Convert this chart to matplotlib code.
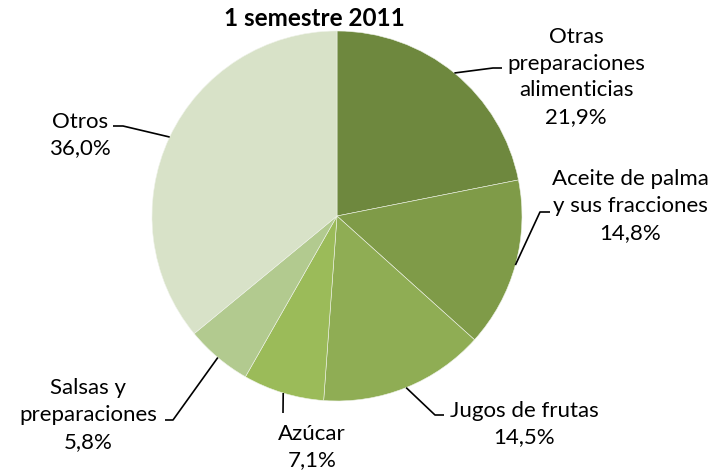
import numpy as np
import matplotlib
matplotlib.use("Agg")
import matplotlib.pyplot as plt

W, H = 714, 470

# data
categories = ["Otras\npreparaciones\nalimenticias", "Aceite de palma\ny sus fracciones",
              "Jugos de frutas", "Azúcar", "Salsas y\npreparaciones", "Otros"]
shares = [21.9, 14.8, 14.5, 7.1, 5.8, 36.0]
pct_labels = ["21,9%", "14,8%", "14,5%", "7,1%", "5,8%", "36,0%"]
colors = ["#6E883E", "#7F9B48", "#8FAD54", "#9BBB59", "#B2CA8F", "#D8E2C8"]

# label layout in pixels from top-left: text centre, elbow point, end of leader
text_pos = [(576, 77), (630, 206), (524, 424), (312, 447), (88, 415), (80, 135)]
elbows = [(493, 68), (540, 212), (435, 415), (283, 413), (173, 420), (123, 126)]
ends = [(502, 68), (550, 212), (444, 415), (283, 413), (165, 420), (113, 126)]

cx, cy, R = 337, 216, 185


def px(x, y):
    return x, H - y


plt.rcParams['font.family'] = ['Lato', 'DejaVu Sans']

fig = plt.figure(figsize=(W / 100, H / 100), dpi=100)
ax = fig.add_axes([0, 0, 1, 1])
wedges, _ = ax.pie(shares, colors=colors, startangle=90, counterclock=False,
                   center=px(cx, cy), radius=R,
                   wedgeprops=dict(edgecolor="#eef2e8", linewidth=0.4))
ax.set_xlim(0, W)
ax.set_ylim(0, H)
ax.set_aspect("equal")
ax.axis("off")

for w, cat, pct, tp, el, en in zip(wedges, categories, pct_labels, text_pos, elbows, ends):
    mid = np.deg2rad((w.theta1 + w.theta2) / 2)
    x0 = w.center[0] + w.r * np.cos(mid)
    y0 = w.center[1] + w.r * np.sin(mid)
    xs = [x0, px(*el)[0], px(*en)[0]]
    ys = [y0, px(*el)[1], px(*en)[1]]
    ax.plot(xs, ys, color="black", lw=1.2, solid_capstyle="butt")
    ax.text(*px(*tp), cat + "\n" + pct, ha="center", va="center",
            fontsize=16, linespacing=1.42, color="black")

ax.text(*px(314, 19), "1 semestre 2011", ha="center", va="center",
        fontsize=17.5, fontweight="bold")

fig.savefig("out.png", dpi=100)
